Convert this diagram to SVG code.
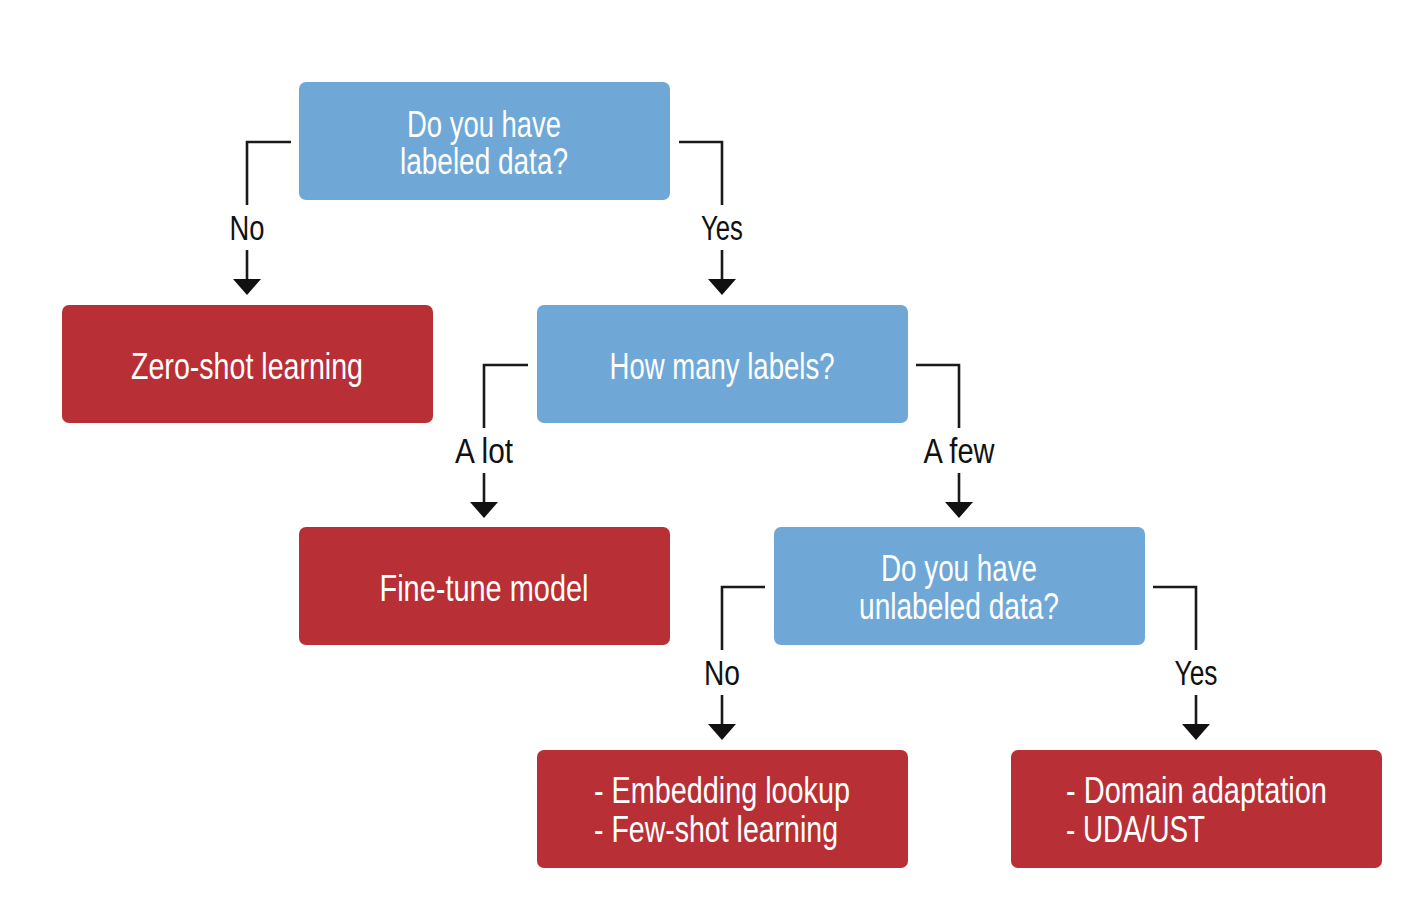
<svg xmlns="http://www.w3.org/2000/svg" width="1419" height="903" viewBox="0 0 1419 903">
<style>
  .q { fill: #6fa8d6; }
  .r { fill: #b83035; }
  .t { font-family: "Liberation Sans", Arial, sans-serif; font-size: 36px; fill: #ffffff; text-anchor: middle; }
  .tl { font-family: "Liberation Sans", Arial, sans-serif; font-size: 36px; fill: #ffffff; text-anchor: start; }
  .lab { font-family: "Liberation Sans", Arial, sans-serif; font-size: 35px; fill: #111111; text-anchor: middle; }
  .c { fill: none; stroke: #1a1a1a; stroke-width: 2.6; }
</style>
<defs>
  <marker id="ah" viewBox="0 0 16 28" refX="0" refY="14" markerWidth="16" markerHeight="28" markerUnits="userSpaceOnUse" orient="auto">
    <path d="M0,0 L16,14 L0,28 Z" fill="#111111"/>
  </marker>
</defs>
<rect width="1419" height="903" fill="#ffffff"/>

<g id="connectors">
  <path class="c" d="M291,142 H247 V205"/>
  <path class="c" d="M247,250 V279" marker-end="url(#ah)"/>
  <path class="c" d="M679,142 H722 V205"/>
  <path class="c" d="M722,250 V279" marker-end="url(#ah)"/>
  <path class="c" d="M528,365 H484 V428"/>
  <path class="c" d="M484,473 V502" marker-end="url(#ah)"/>
  <path class="c" d="M916,365 H959 V428"/>
  <path class="c" d="M959,473 V502" marker-end="url(#ah)"/>
  <path class="c" d="M765,587 H722 V650"/>
  <path class="c" d="M722,695 V724" marker-end="url(#ah)"/>
  <path class="c" d="M1153,587 H1196 V650"/>
  <path class="c" d="M1196,695 V724" marker-end="url(#ah)"/>
  <text class="lab" x="247" y="240" textLength="35" lengthAdjust="spacingAndGlyphs">No</text>
  <text class="lab" x="722" y="240" textLength="42" lengthAdjust="spacingAndGlyphs">Yes</text>
  <text class="lab" x="484" y="463" textLength="58" lengthAdjust="spacingAndGlyphs">A lot</text>
  <text class="lab" x="959" y="463" textLength="71" lengthAdjust="spacingAndGlyphs">A few</text>
  <text class="lab" x="722" y="685" textLength="36" lengthAdjust="spacingAndGlyphs">No</text>
  <text class="lab" x="1196" y="685" textLength="43" lengthAdjust="spacingAndGlyphs">Yes</text>
</g>

<g id="q-labeled">
  <rect class="q" x="299" y="82" width="371" height="118" rx="7"/>
  <text class="t" x="484" y="137" textLength="154" lengthAdjust="spacingAndGlyphs">Do you have</text>
  <text class="t" x="484" y="174" textLength="168" lengthAdjust="spacingAndGlyphs">labeled data?</text>
</g>

<g id="zero-shot">
  <rect class="r" x="62" y="305" width="371" height="118" rx="7"/>
  <text class="t" x="247" y="379" textLength="232" lengthAdjust="spacingAndGlyphs">Zero-shot learning</text>
</g>

<g id="q-how-many">
  <rect class="q" x="537" y="305" width="371" height="118" rx="7"/>
  <text class="t" x="722" y="379" textLength="225" lengthAdjust="spacingAndGlyphs">How many labels?</text>
</g>

<g id="fine-tune">
  <rect class="r" x="299" y="527" width="371" height="118" rx="7"/>
  <text class="t" x="484" y="601" textLength="209" lengthAdjust="spacingAndGlyphs">Fine-tune model</text>
</g>

<g id="q-unlabeled">
  <rect class="q" x="774" y="527" width="371" height="118" rx="7"/>
  <text class="t" x="959" y="581" textLength="156" lengthAdjust="spacingAndGlyphs">Do you have</text>
  <text class="t" x="959" y="619" textLength="200" lengthAdjust="spacingAndGlyphs">unlabeled data?</text>
</g>

<g id="few-shot">
  <rect class="r" x="537" y="750" width="371" height="118" rx="7"/>
  <text class="tl" x="594" y="803" textLength="256" lengthAdjust="spacingAndGlyphs">- Embedding lookup</text>
  <text class="tl" x="594" y="842" textLength="244" lengthAdjust="spacingAndGlyphs">- Few-shot learning</text>
</g>

<g id="domain">
  <rect class="r" x="1011" y="750" width="371" height="118" rx="7"/>
  <text class="tl" x="1066" y="803" textLength="261" lengthAdjust="spacingAndGlyphs">- Domain adaptation</text>
  <text class="tl" x="1066" y="842" textLength="139" lengthAdjust="spacingAndGlyphs">- UDA/UST</text>
</g>
</svg>
